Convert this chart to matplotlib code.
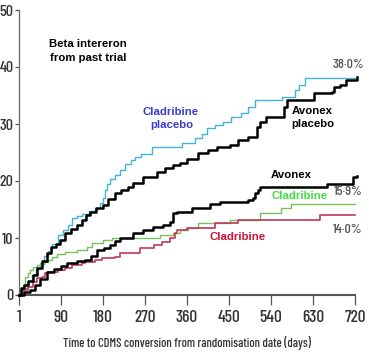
import matplotlib
matplotlib.use("Agg")
import matplotlib.pyplot as plt
from matplotlib import font_manager

# ---- data ----
cyan_days = [0, 10, 20, 28, 38, 46, 55, 63, 72, 84, 95, 105, 114, 125, 136, 150, 164, 175, 180, 185, 190, 196, 206, 218, 228, 240, 250, 262, 285, 350, 378, 392, 404, 420, 438, 455, 475, 490, 507, 564, 592, 600, 613, 720]
cyan_vals = [0, 1.2, 2.5, 3.5, 4.5, 5.5, 6.8, 7.8, 9.0, 10.5, 11.4, 12.2, 13.5, 13.8, 14.2, 14.8, 15.3, 16.1, 17.0, 18.4, 19.5, 20.3, 21.0, 22.0, 23.0, 23.6, 24.2, 24.8, 26.0, 26.6, 27.5, 28.3, 29.3, 29.8, 30.3, 31.2, 32.0, 33.0, 34.2, 34.7, 36.0, 36.8, 38.0, 38.0]

avp_days = [0, 5, 12, 20, 31, 40, 50, 61, 70, 80, 89, 100, 112, 125, 135, 145, 153, 165, 181, 192, 207, 220, 235, 246, 267, 296, 314, 330, 345, 361, 385, 405, 425, 453, 470, 490, 511, 517, 530, 567, 575, 632, 670, 675, 688, 700, 725]
avp_vals = [0, 1.3, 1.8, 2.5, 3.5, 4.8, 6.0, 7.4, 8.5, 9.0, 9.6, 10.8, 11.5, 12.3, 13.2, 14.0, 14.6, 15.2, 15.8, 16.8, 17.9, 18.4, 19.0, 19.6, 20.7, 21.5, 22.3, 22.8, 23.2, 23.9, 24.9, 25.4, 26.0, 26.4, 27.2, 27.7, 29.5, 30.3, 31.2, 33.0, 34.2, 35.5, 35.7, 36.5, 36.8, 37.7, 38.2]

av_days = [0, 12, 25, 35, 45, 61, 75, 90, 103, 125, 142, 155, 168, 182, 196, 207, 217, 245, 266, 288, 309, 324, 331, 339, 371, 410, 431, 491, 502, 506, 512, 517, 660, 716, 725]
av_vals = [0, 0.5, 0.9, 1.8, 2.8, 4.0, 4.6, 5.1, 5.6, 5.9, 6.1, 6.8, 7.9, 8.3, 8.8, 9.4, 10.0, 10.9, 11.4, 11.9, 12.3, 12.8, 14.4, 14.6, 15.3, 16.0, 16.3, 16.7, 17.0, 17.9, 18.4, 18.9, 19.5, 20.7, 20.8]

cg_days = [0, 5, 10, 14, 20, 25, 31, 40, 46, 55, 63, 72, 82, 100, 125, 147, 157, 180, 200, 303, 331, 346, 363, 384, 452, 517, 562, 583, 720]
cg_vals = [0, 0.8, 1.8, 3.2, 3.9, 4.4, 4.9, 5.3, 5.6, 5.8, 6.1, 6.7, 7.2, 7.5, 7.9, 8.4, 9.2, 9.6, 10.0, 10.5, 10.9, 11.4, 11.8, 12.6, 13.2, 14.4, 15.3, 16.0, 16.0]

cr_days = [0, 8, 20, 31, 40, 50, 57, 63, 85, 99, 114, 136, 143, 164, 179, 206, 217, 260, 289, 307, 324, 335, 339, 360, 420, 470, 646, 720]
cr_vals = [0, 0.8, 1.4, 2.3, 3.0, 3.2, 3.9, 4.0, 4.4, 4.7, 5.3, 5.6, 5.8, 6.1, 6.5, 6.7, 7.4, 8.2, 8.8, 9.3, 10.0, 10.9, 11.4, 11.8, 12.6, 13.2, 14.0, 14.0]

x_ticks = [1, 90, 180, 270, 360, 450, 540, 630, 720]
y_ticks = [0, 10, 20, 30, 40, 50]
end_labels = ["38·0%", "15·9%", "14·0%"]

# ---- fonts ----
names = {f.name for f in font_manager.fontManager.ttflist}
narrow = ["Barlow Condensed", "DejaVu Sans"] if "Barlow Condensed" in names else ["DejaVu Sans"]
bold_font = ["Liberation Sans", "DejaVu Sans"]

fig = plt.figure(figsize=(3.78, 3.55), dpi=100)
ax = fig.add_axes([19/378, 1 - 295/355, 336/378, 285/355])

ax.step(cyan_days, cyan_vals, where="post", color="#45b3d3", lw=1.0, clip_on=False, zorder=3)
ax.step(cg_days, cg_vals, where="post", color="#78c05a", lw=1.0, clip_on=False, zorder=3)
ax.step(cr_days, cr_vals, where="post", color="#c0385c", lw=1.2, clip_on=False, zorder=3)
ax.step(avp_days, avp_vals, where="post", color="black", lw=1.8, clip_on=False, zorder=4)
ax.step(av_days, av_vals, where="post", color="black", lw=1.8, clip_on=False, zorder=4)

ax.set_xlim(1, 720)
ax.set_ylim(0, 50)
ax.set_xticks(x_ticks)
ax.set_xticklabels([str(t) for t in x_ticks])
ax.set_yticks(y_ticks)
ax.set_yticklabels([str(t) for t in y_ticks])

for s in ["top", "right"]:
    ax.spines[s].set_visible(False)
ax.spines["left"].set_color("#666666")
ax.spines["left"].set_linewidth(0.9)
ax.spines["bottom"].set_color("#555555")
ax.spines["bottom"].set_linewidth(1.5)

ax.tick_params(axis="x", direction="out", length=7.5, width=0.9, color="#555555",
               pad=3.5, labelsize=12.5, labelcolor="#333333")
ax.tick_params(axis="y", direction="out", length=3, width=0.9, color="#555555",
               pad=0.8, labelsize=11.5, labelcolor="#333333")
for lab in ax.get_xticklabels() + ax.get_yticklabels():
    lab.set_family(narrow)
    lab.set_fontweight(500)

ax.set_xlabel("Time to CDMS conversion from randomisation date (days)",
              family=narrow, fontsize=9, fontweight=500, color="#333333", labelpad=8)

def ptext(x, y, s, **kw):
    fig.text(x / 378, 1 - y / 355, s, ha="center", va="center", **kw)

bkw = dict(family=bold_font, fontweight="bold", fontsize=8.2)
ptext(88, 44, "Beta intereron", color="black", **bkw)
ptext(88, 58, "from past trial", color="black", **bkw)
ptext(171, 112, "Cladribine", color="#3b3bcc", **bkw)
ptext(172, 125, "placebo", color="#3b3bcc", **bkw)
ptext(312, 111, "Avonex", color="black", **bkw)
ptext(313, 124, "placebo", color="black", **bkw)
ptext(291, 175, "Avonex", color="black", **bkw)
ptext(300, 196, "Cladribine", color="#44dd44", **bkw)
ptext(238, 237, "Cladribine", color="#cc1133", **bkw)

pkw = dict(family=narrow, fontsize=10, fontweight=500, color="#555555")
ptext(348, 65, end_labels[0], **pkw)
ptext(348, 192, end_labels[1], **pkw)
ptext(348, 230, end_labels[2], **pkw)

fig.savefig("out.png", dpi=100)
